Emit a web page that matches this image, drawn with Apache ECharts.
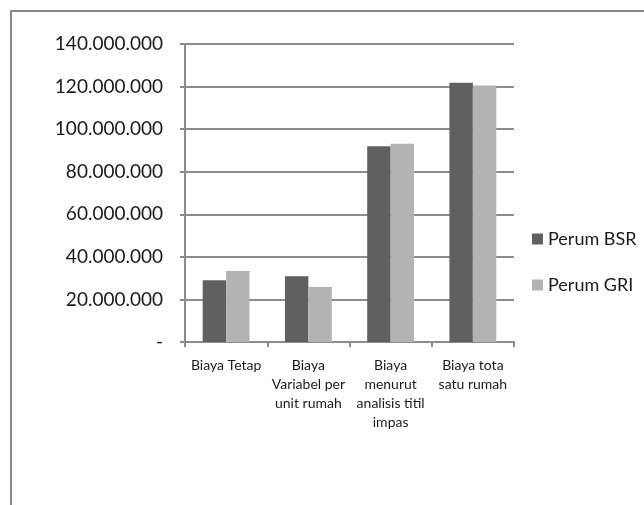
<!DOCTYPE html>
<html>
<head>
<meta charset="utf-8">
<script src="https://cdn.jsdelivr.net/npm/echarts@6/dist/echarts.min.js"></script>
<style>
  html, body { margin: 0; padding: 0; background: #fff; }
  #chart { width: 644px; height: 505px; }
</style>
</head>
<body>
<div id="chart"></div>
<script>
const categories = [
  'Biaya Tetap',
  'Biaya\nVariabel per\nunit rumah',
  'Biaya\nmenurut\nanalisis titil\nimpas',
  'Biaya tota\nsatu rumah'
]
const seriesNames = ['Perum BSR', 'Perum GRI']
const bsrValues = [29000000, 30900000, 92000000, 121800000]
const griValues = [33300000, 25800000, 93100000, 120500000]

const fontFamily = 'Lato, "Open Sans", sans-serif'
const gridColor = '#8c8c8c'

// 140000000 -> 140.000.000, 0 -> "-"
const formatRupiah = (value) => {
  if (!value) return '-'
  return String(value).replace(/\B(?=(\d{3})+(?!\d))/g, '.')
}

const chart = echarts.init(document.getElementById('chart'))

chart.setOption({
  backgroundColor: '#fff',
  animation: false,
  textStyle: { fontFamily },
  graphic: [
    {
      type: 'rect',
      silent: true,
      shape: { x: 11, y: 11, width: 700, height: 600 },
      style: { fill: 'none', stroke: '#8a8a8a', lineWidth: 2 }
    }
  ],
  grid: { left: 185, right: 130, top: 44, bottom: 163, containLabel: false },
  legend: {
    orient: 'vertical',
    left: 527,
    top: 225,
    itemWidth: 11,
    itemHeight: 11,
    itemGap: 28,
    icon: 'rect',
    textStyle: { fontSize: 18, color: '#1a1a1a', fontFamily },
    data: seriesNames
  },
  xAxis: {
    type: 'category',
    data: categories,
    axisLine: { lineStyle: { color: gridColor, width: 2 } },
    axisTick: { show: true, length: 5, lineStyle: { color: gridColor, width: 2 } },
    axisLabel: { fontSize: 14, color: '#1a1a1a', lineHeight: 19, margin: 14, interval: 0, fontFamily }
  },
  yAxis: {
    type: 'value',
    min: 0,
    max: 140000000,
    interval: 20000000,
    axisLine: { show: true, lineStyle: { color: gridColor, width: 2 } },
    axisTick: { show: true, length: 5, lineStyle: { color: gridColor, width: 2 } },
    splitLine: { lineStyle: { color: gridColor, width: 2 } },
    axisLabel: { fontSize: 19, color: '#1a1a1a', margin: 22, formatter: formatRupiah, fontFamily }
  },
  series: [
    {
      name: seriesNames[0],
      type: 'bar',
      data: bsrValues,
      barGap: '0%',
      barCategoryGap: '43%',
      itemStyle: { color: '#606060' }
    },
    {
      name: seriesNames[1],
      type: 'bar',
      data: griValues,
      itemStyle: { color: '#b3b3b3' }
    }
  ]
})
</script>
</body>
</html>
